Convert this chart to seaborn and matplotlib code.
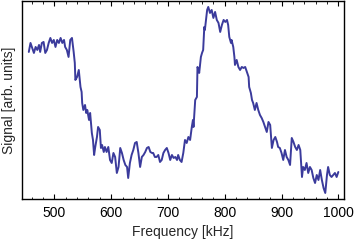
import matplotlib
matplotlib.use("Agg")
import matplotlib.pyplot as plt
import seaborn as sns
import pandas as pd
from matplotlib.ticker import MultipleLocator

# frequency (kHz) and signal (arb. units)
freq = [
    455, 458, 461, 464, 467, 470, 473, 475, 478, 481, 484, 487, 490, 493, 496, 499,
    502, 505, 508, 511, 514, 517, 519, 522, 525, 528, 531, 534, 536, 537, 540, 543,
    546, 548, 549, 551, 554, 556, 558, 561, 563, 566, 568, 570, 572, 575, 577, 580,
    582, 584, 587, 589, 592, 595, 598, 601, 604, 607, 610, 613, 616, 619, 622, 625,
    628, 630, 633, 636, 639, 642, 645, 648, 651, 654, 657, 660, 663, 666, 669, 672,
    674, 677, 680, 683, 686, 689, 692, 695, 698, 701, 704, 707, 710, 713, 716, 718,
    721, 724, 727, 730, 733, 736, 739, 742, 744, 745, 748, 751, 752, 754, 755, 758,
    760, 762, 764, 765, 767, 769, 771, 774, 777, 780, 783, 786, 789, 792, 795, 798,
    801, 804, 806, 808, 811, 812, 815, 817, 818, 821, 824, 827, 830, 833, 836, 839,
    842, 843, 846, 848, 850, 853, 856, 859, 862, 865, 868, 871, 874, 877, 880, 883,
    886, 889, 892, 894, 897, 900, 903, 906, 909, 912, 915, 918, 921, 924, 927, 930,
    933, 936, 938, 941, 944, 947, 950, 953, 956, 959, 962, 965, 968, 971, 974, 977,
    980, 982, 985, 988, 991, 994, 997, 1000,
]
signal = [
    147, 156, 151, 146, 152, 149, 154, 147, 156, 157, 146, 149, 156, 161, 156, 159,
    152, 159, 156, 161, 156, 159, 152, 149, 142, 159, 161, 147, 136, 119, 122, 129,
    112, 107, 96, 89, 94, 86, 89, 79, 86, 66, 59, 44, 52, 62, 72, 69,
    51, 54, 47, 52, 47, 52, 39, 36, 46, 42, 26, 32, 51, 46, 39, 34,
    32, 21, 36, 44, 49, 56, 57, 46, 32, 42, 44, 47, 51, 52, 47, 46,
    46, 42, 42, 44, 37, 39, 46, 49, 51, 46, 39, 44, 41, 42, 39, 44,
    39, 37, 46, 59, 56, 62, 59, 72, 79, 72, 99, 102, 132, 129, 126, 142,
    146, 149, 172, 169, 179, 189, 192, 186, 189, 181, 187, 179, 176, 167, 174, 179,
    177, 179, 174, 162, 156, 159, 152, 142, 134, 139, 132, 129, 132, 131, 132, 127,
    122, 112, 106, 99, 96, 89, 96, 89, 84, 81, 77, 72, 67, 77, 74, 51,
    59, 62, 57, 52, 51, 46, 39, 49, 42, 39, 34, 61, 57, 52, 49, 54,
    49, 22, 32, 29, 36, 26, 32, 29, 21, 16, 24, 19, 29, 19, 11, 6,
    24, 32, 24, 22, 24, 26, 22, 27,
]

df = pd.DataFrame({"Frequency": freq, "Signal": signal})

sns.set_theme(style="ticks")
plt.rcParams["font.family"] = ["Liberation Sans", "DejaVu Sans"]

fig = plt.figure(figsize=(3.54, 2.41), dpi=100)
ax = fig.add_axes([0.0621, 0.1743, 0.9097, 0.8197])

sns.lineplot(data=df, x="Frequency", y="Signal", ax=ax, color="#3b3b9c",
             linewidth=1.4, sort=False)

ax.set_xlim(443, 1010)
ax.set_ylim(0, 197.5)
ax.xaxis.set_major_locator(MultipleLocator(100))
ax.xaxis.set_minor_locator(MultipleLocator(20))
ax.tick_params(axis="x", which="both", direction="in", top=True, bottom=True,
               labelsize=10, colors="black", pad=5)
ax.tick_params(axis="x", which="major", length=3.5, width=0.8)
ax.tick_params(axis="x", which="minor", length=1.8, width=0.6)
ax.set_yticks([])
for side in ["top", "right", "bottom", "left"]:
    ax.spines[side].set_visible(True)
    ax.spines[side].set_color("black")
    ax.spines[side].set_linewidth(1.0)

ax.set_xlabel("Frequency [kHz]", fontsize=10, labelpad=4)
ax.set_ylabel("Signal [arb. units]", fontsize=10, labelpad=4)

fig.savefig("out.png", dpi=100)
plt.close(fig)
